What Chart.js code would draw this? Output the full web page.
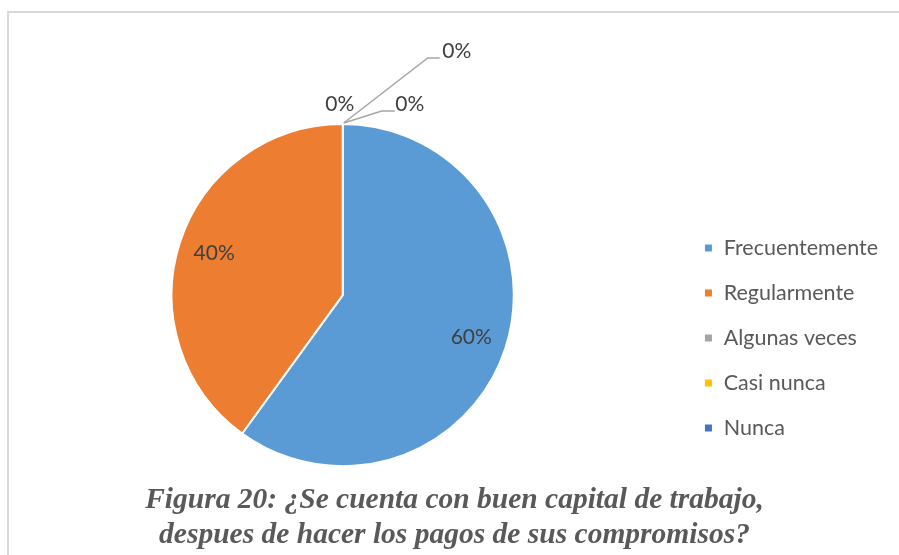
<!DOCTYPE html>
<html>
<head>
<meta charset="utf-8">
<script src="https://cdn.jsdelivr.net/npm/chart.js@4"></script>
<style>
  html, body { margin: 0; padding: 0; background: #fff; overflow: hidden; width: 899px; height: 555px; }
  #frame {
    position: absolute; left: 7px; top: 11px; width: 892px; height: 544px;
    border-left: 2px solid #d9d9d9; border-top: 2px solid #d9d9d9;
  }
  #wrap { position: absolute; left: 5px; top: 0; width: 899px; height: 555px; }
</style>
</head>
<body>
<div id="frame"></div>
<div id="wrap"><canvas id="pieChart"></canvas></div>
<script>
const categories = ["Frecuentemente", "Regularmente", "Algunas veces", "Casi nunca", "Nunca"];
const percents = [60, 40, 0, 0, 0];
const colors = ["#5b9bd5", "#ed7d31", "#a5a5a5", "#ffc000", "#4472c4"];
const titleLines = ["Figura 20: ¿Se cuenta con buen capital de trabajo,", "despues de hacer los pagos de sus compromisos?"];

// labels: big slices inside, zero slices with leader lines at the top
const pieLabels = {
  id: "pieLabels",
  afterDatasetsDraw(chart) {
    const ctx = chart.ctx;
    const arcs = chart.getDatasetMeta(0).data;
    ctx.save();
    ctx.font = "21px Lato";
    ctx.fillStyle = "#404040";
    ctx.textAlign = "center";
    ctx.textBaseline = "middle";
    arcs.forEach((arc, i) => {
      const txt = percents[i] + "%";
      const { x, y, startAngle, endAngle, outerRadius } = arc.getProps(["x", "y", "startAngle", "endAngle", "outerRadius"], true);
      if (percents[i] > 0) {
        const mid = (startAngle + endAngle) / 2;
        const r = outerRadius * 0.79;
        ctx.fillText(txt, x + Math.cos(mid) * r, y + Math.sin(mid) * r);
        return;
      }
      const px = x, py = y - outerRadius;
      ctx.strokeStyle = "#a6a6a6";
      ctx.lineWidth = 1.5;
      if (i === 2) {
        ctx.fillText(txt, px - 3, py - 20);
      } else if (i === 3) {
        ctx.beginPath();
        ctx.moveTo(px + 1, py - 1);
        ctx.lineTo(px + 39, py - 13);
        ctx.lineTo(px + 52, py - 13);
        ctx.stroke();
        ctx.fillText(txt, px + 67, py - 20);
      } else {
        ctx.beginPath();
        ctx.moveTo(px + 1, py - 1);
        ctx.lineTo(px + 85, py - 66);
        ctx.lineTo(px + 97, py - 66);
        ctx.stroke();
        ctx.fillText(txt, px + 114, py - 73);
      }
    });
    ctx.restore();
  }
};

// widen the legend box so the pie sits further left
const legendWidth = {
  id: "legendWidth",
  beforeInit(chart) {
    const fit = chart.legend.fit;
    chart.legend.fit = function () {
      fit.call(chart.legend);
      this.width += 16;
    };
  }
};

new Chart(document.getElementById("pieChart"), {
  type: "pie",
  data: {
    labels: categories,
    datasets: [{
      data: percents,
      backgroundColor: colors,
      borderColor: "#ffffff",
      borderWidth: 2
    }]
  },
  options: {
    responsive: true,
    maintainAspectRatio: false,
    animation: false,
    layout: { padding: { left: 0, right: 0, top: 123, bottom: 2 } },
    plugins: {
      tooltip: { enabled: false },
      legend: {
        position: "right",
        labels: {
          color: "#595959",
          font: { family: "Lato", size: 21.5 },
          boxWidth: 9,
          boxHeight: 9,
          padding: 23.5
        }
      },
      title: {
        display: true,
        position: "bottom",
        text: titleLines,
        color: "#595959",
        font: { family: "Liberation Serif", size: 29.5, style: "italic", weight: "bold", lineHeight: 1.2 },
        padding: { top: 15, bottom: 0 }
      }
    }
  },
  plugins: [pieLabels, legendWidth]
});
</script>
</body>
</html>
